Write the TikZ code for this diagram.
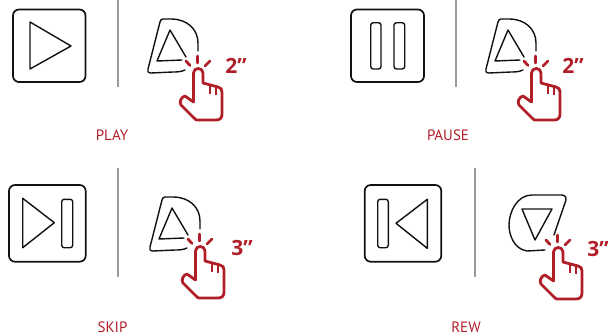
\documentclass[tikz,border=0pt]{standalone}
\usepackage{fontspec}
\setmainfont{PT Sans}
\newfontfamily\timefont{Open Sans}
\usetikzlibrary{positioning}
\definecolor{ink}{HTML}{111111}
\definecolor{inkgray}{HTML}{9A9A9A}
\definecolor{tapred}{HTML}{B01F28}
\tikzset{
  outline/.style={line width=1.4pt,color=ink,line join=round,line cap=round},
  divider/.style={line width=2pt,color=inkgray},
  tapline/.style={line width=2.8pt,color=tapred,line join=round,line cap=round},
  caption/.style={font=\fontsize{15}{15}\selectfont,color=tapred},
  seconds/.style={font=\timefont\bfseries\fontsize{21}{21}\selectfont,color=tapred},
  % hand with rays, origin at the finger tip
  pics/taphand/.style={code={
    \draw[tapline,fill=white] (-4.5,33) -- (-4.5,4) .. controls (-4.5,-2) and (5,-2) .. (5,4) -- (5,14)
      -- (20,18) .. controls (23,19) and (24,20) .. (24,23) -- (24,45)
      .. controls (24,49) and (22,51) .. (18,51) -- (-1,51) .. controls (-2,51) and (-3,50) .. (-4,49)
      -- (-17,36) .. controls (-19,33) and (-17,28) .. (-13,27) -- cycle;
    \draw[line width=2pt,color=tapred] (12,15.5) -- (12,25) (18,17) -- (18,26);
    \draw[tapline] (-0.5,-13) -- (-0.5,-6) (-12,-8) -- (-8,-3.5) (12,-8) -- (7,-3);
  }},
  % rounded pad with triangle pointing up
  pics/padup/.style={code={
    \draw[outline] (-13,1) .. controls (-17,3) and (-22,3) .. (-25,3) -- (-47,4)
      .. controls (-50,4) and (-51,2) .. (-50,0) -- (-38,-47)
      .. controls (-37.5,-49) and (-36.5,-50) .. (-35,-50) -- (-27,-50)
      .. controls (-11,-50) and (0,-40) .. (0,-26) -- (0,-18);
    \draw[outline] (-12,-12) -- (-28,-39) -- (-41,-8) -- (-16,-9);
  }}
}
\begin{document}
\begin{tikzpicture}[x=1pt,y=-1pt]
  \path[use as bounding box] (0,0) rectangle (608,335);
  % play
  \draw[outline,line width=1.7pt,rounded corners=6pt] (13,9.5) rectangle (85.5,82);
  \draw[outline] (30,22) -- (71,46) -- (30,69) -- cycle;
  \draw[divider] (118,0) -- (118,87);
  \pic at (198,69) {padup};
  \pic at (198,69) {taphand};
  \node[seconds] (playtime) at (236,66) {2”};
  \node[caption] (playlabel) at (112,135) {PLAY};
  % pause
  \draw[outline,line width=1.7pt,rounded corners=6pt] (351,9.5) rectangle (424,82);
  \draw[outline,rounded corners=2.5pt] (370.7,22.7) rectangle (381,69);
  \draw[outline,rounded corners=2.5pt] (394,22.7) rectangle (404.7,69);
  \draw[divider] (456.3,0) -- (456.3,87);
  \pic at (536,69) {padup};
  \pic at (536,69) {taphand};
  \node[seconds] (pausetime) at (573,66) {2”};
  \node[caption] (pauselabel) at (448,135) {PAUSE};
  % skip
  \draw[outline,line width=1.7pt,rounded corners=6pt] (9,185) rectangle (85.7,261.7);
  \draw[outline] (22.7,198.3) -- (54.3,222.7) -- (22.7,247.7) -- cycle;
  \draw[outline,rounded corners=2.5pt] (61.7,199.3) rectangle (72.7,247.7);
  \draw[divider] (118,168) -- (118,277);
  \pic at (200,247) {padup};
  \pic at (200,247) {taphand};
  \node[seconds] (skiptime) at (242,248) {3”};
  \node[caption] (skiplabel) at (112.5,327) {SKIP};
  % rew
  \draw[outline,line width=1.7pt,rounded corners=6pt] (364.7,185) rectangle (441.3,261.7);
  \draw[outline,rounded corners=2.5pt] (377.7,199.3) rectangle (388.3,247.7);
  \draw[outline] (427.3,199.3) -- (396,223.3) -- (427.3,248.3) -- cycle;
  \draw[divider] (475,168) -- (475,277);
  \draw[outline] (545,250) -- (527,251) .. controls (514,249) and (509,235) .. (509,225)
    .. controls (509,212) and (517,195) .. (532,195) -- (562,195)
    .. controls (565,195) and (567,198) .. (566,200) -- (554,235);
  \draw[outline] (522,209) -- (552,209) -- (535,240) -- cycle;
  \pic at (558,248) {taphand};
  \node[seconds] (rewtime) at (598,249) {3”};
  \node[caption] (rewlabel) at (466,327) {REW};
\end{tikzpicture}
\end{document}
